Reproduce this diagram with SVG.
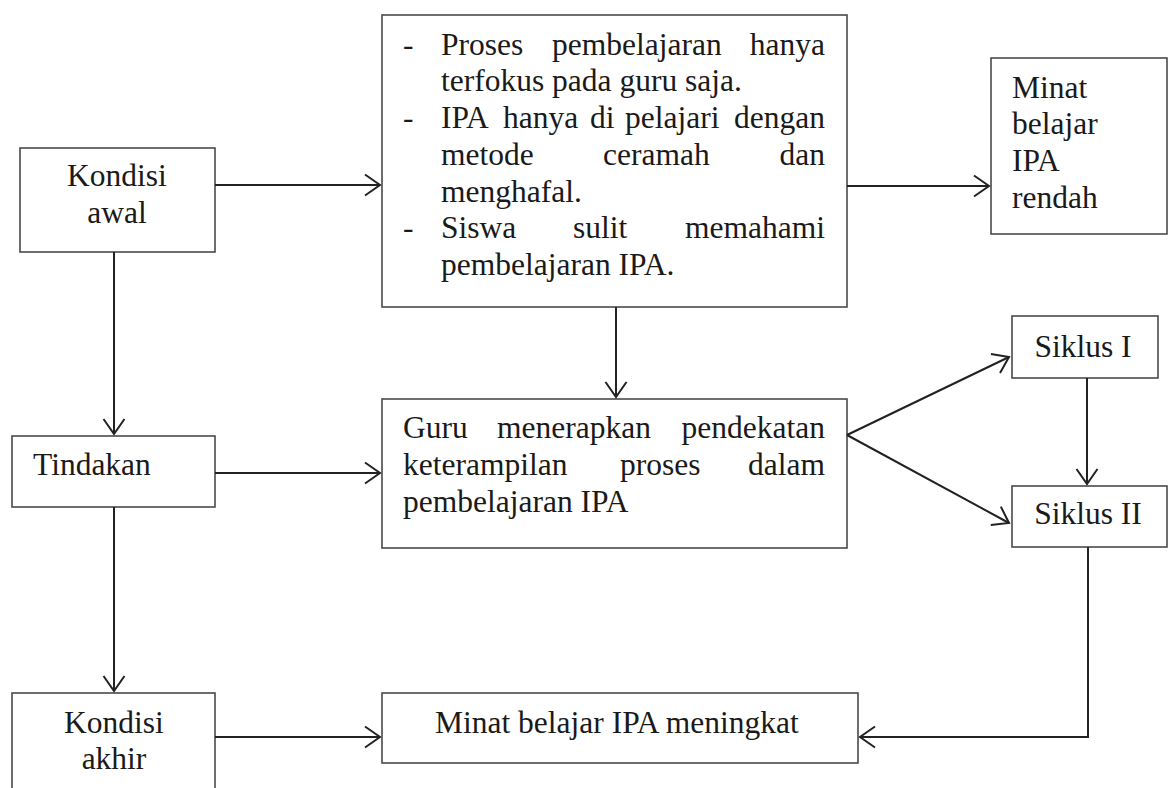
<svg xmlns="http://www.w3.org/2000/svg" width="1169" height="788" viewBox="0 0 1169 788">
<defs>
<style>
.box{fill:#fff;stroke:#4a4a4a;stroke-width:1.6}
.t{font-family:"Liberation Serif","Times New Roman",serif;font-size:31.5px;fill:#1a1a1a}
.m{text-anchor:middle}
.e{text-anchor:end}
.c{fill:none;stroke:#222;stroke-width:2;marker-end:url(#ah)}
</style>
<marker id="ah" viewBox="0 0 18 24" markerWidth="18" markerHeight="24" refX="16" refY="12" orient="auto" markerUnits="userSpaceOnUse">
<path d="M1,1.5 L16,12 L1,22.5" fill="none" stroke="#222" stroke-width="2"/>
</marker>
</defs>
<rect width="1169" height="788" fill="#fff"/>

<g id="kondisi-awal">
<rect class="box" x="20" y="148" width="195" height="104"/>
<text class="t m" x="117" y="186">Kondisi</text>
<text class="t m" x="117" y="223">awal</text>
</g>

<g id="masalah">
<rect class="box" x="382" y="15" width="465" height="292"/>
<text class="t" x="403" y="55">-</text>
<text class="t" x="441" y="55">Proses</text>
<text class="t" x="552" y="55">pembelajaran</text>
<text class="t e" x="825" y="55">hanya</text>
<text class="t" x="441" y="91">terfokus pada guru saja.</text>
<text class="t" x="403" y="128">-</text>
<text class="t" x="441" y="128">IPA</text>
<text class="t" x="503" y="128">hanya</text>
<text class="t" x="590" y="128">di</text>
<text class="t" x="625" y="128">pelajari</text>
<text class="t e" x="825" y="128">dengan</text>
<text class="t" x="441" y="165">metode</text>
<text class="t" x="603" y="165">ceramah</text>
<text class="t e" x="825" y="165">dan</text>
<text class="t" x="441" y="202">menghafal.</text>
<text class="t" x="403" y="238">-</text>
<text class="t" x="441" y="238">Siswa</text>
<text class="t" x="573" y="238">sulit</text>
<text class="t e" x="825" y="238">memahami</text>
<text class="t" x="441" y="275">pembelajaran IPA.</text>
</g>

<g id="minat-rendah">
<rect class="box" x="991" y="58" width="176" height="176"/>
<text class="t" x="1012" y="98">Minat</text>
<text class="t" x="1012" y="134">belajar</text>
<text class="t" x="1012" y="171">IPA</text>
<text class="t" x="1012" y="208">rendah</text>
</g>

<g id="tindakan">
<rect class="box" x="12" y="436" width="203" height="71"/>
<text class="t" x="33" y="475">Tindakan</text>
</g>

<g id="guru">
<rect class="box" x="382" y="399" width="465" height="149"/>
<text class="t" x="403" y="438">Guru</text>
<text class="t" x="497" y="438">menerapkan</text>
<text class="t e" x="825" y="438">pendekatan</text>
<text class="t" x="403" y="475">keterampilan</text>
<text class="t" x="620" y="475">proses</text>
<text class="t e" x="825" y="475">dalam</text>
<text class="t" x="403" y="512">pembelajaran IPA</text>
</g>

<g id="siklus-1">
<rect class="box" x="1012" y="316" width="146" height="62"/>
<text class="t m" x="1083" y="357">Siklus I</text>
</g>

<g id="siklus-2">
<rect class="box" x="1012" y="486" width="155" height="61"/>
<text class="t m" x="1088" y="524">Siklus II</text>
</g>

<g id="kondisi-akhir">
<rect class="box" x="12" y="693" width="203" height="110"/>
<text class="t m" x="114" y="733">Kondisi</text>
<text class="t m" x="114" y="769">akhir</text>
</g>

<g id="minat-meningkat">
<rect class="box" x="382" y="693" width="476" height="70"/>
<text class="t" x="435" y="733">Minat belajar IPA meningkat</text>
</g>

<g id="connectors">
<path class="c" d="M215,185 L380,185"/>
<path class="c" d="M847,186 L989,186"/>
<path class="c" d="M616,307 L616,397"/>
<path class="c" d="M114,252 L114,434"/>
<path class="c" d="M215,473 L380,473"/>
<path class="c" d="M114,507 L114,691"/>
<path class="c" d="M215,737 L380,737"/>
<path class="c" d="M847,435 L1009,357"/>
<path class="c" d="M847,435 L1009,523"/>
<path class="c" d="M1087,378 L1087,484"/>
<path class="c" d="M1088,547 L1088,737 L860,737"/>
</g>
</svg>
